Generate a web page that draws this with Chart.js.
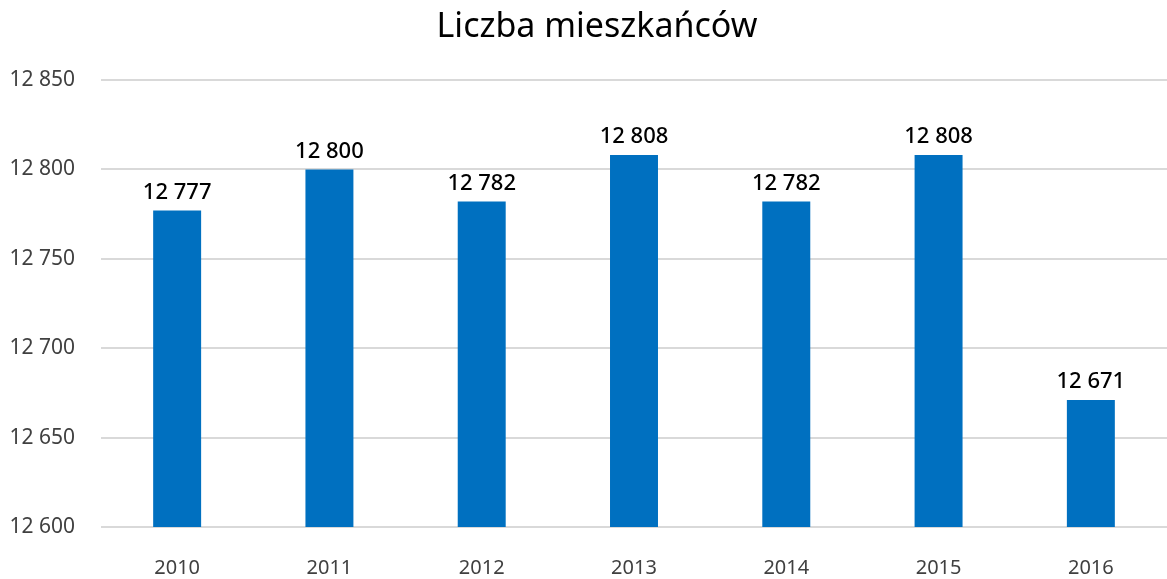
<!DOCTYPE html>
<html>
<head>
<meta charset="utf-8">
<script src="https://cdn.jsdelivr.net/npm/chart.js@4/dist/chart.umd.min.js"></script>
<style>
  html, body { margin: 0; padding: 0; background: #fff; }
  #wrap { width: 1167px; height: 579px; }
</style>
</head>
<body>
<div id="wrap"><canvas id="popChart" width="1167" height="579"></canvas></div>
<script>
// chart data
const chartTitle = 'Liczba mieszkańców';
const years = ['2010', '2011', '2012', '2013', '2014', '2015', '2016'];
const residents = [12777, 12800, 12782, 12808, 12782, 12808, 12671];
const yMin = 12600;
const yMax = 12850;
const yStep = 50;

const FONT = '"Noto Sans", "Open Sans", sans-serif';

// "12 850" style formatting
function fmt(v) {
    return String(Math.round(v)).replace(/\B(?=(\d{3})+(?!\d))/g, ' ');
}

// value labels above bars + title (title sits a bit right of canvas centre)
const extraText = {
    id: 'extraText',
    afterDatasetsDraw(chart) {
        const ctx = chart.ctx;
        const meta = chart.getDatasetMeta(0);
        ctx.save();
        ctx.font = '500 22px ' + FONT;
        ctx.fillStyle = '#000';
        ctx.textAlign = 'center';
        ctx.textBaseline = 'bottom';
        meta.data.forEach((bar, i) => {
            ctx.fillText(fmt(residents[i]), bar.x, bar.y - 7);
        });

        ctx.font = '34px ' + FONT;
        ctx.textBaseline = 'middle';
        ctx.fillText(chartTitle, 597, 27);
        ctx.restore();
    }
};

const ctx = document.getElementById('popChart').getContext('2d');
new Chart(ctx, {
    type: 'bar',
    data: {
        labels: years,
        datasets: [{
            label: chartTitle,
            data: residents,
            backgroundColor: '#0070C0',
            barPercentage: 0.315,
            categoryPercentage: 1.0
        }]
    },
    options: {
        responsive: false,
        animation: false,
        layout: { padding: { left: 0, right: 0, top: 80, bottom: 0 } },
        plugins: {
            legend: { display: false },
            tooltip: { enabled: false },
            title: { display: false }
        },
        scales: {
            x: {
                grid: { display: false },
                border: { display: false },
                ticks: {
                    color: '#404040',
                    font: { family: FONT, size: 20 },
                    padding: 21
                },
                afterFit(scale) { scale.height = 52; }
            },
            y: {
                min: yMin,
                max: yMax,
                grid: { color: '#d9d9d9', lineWidth: 2, drawTicks: false },
                border: { display: false },
                ticks: {
                    stepSize: yStep,
                    color: '#404040',
                    font: { family: FONT, size: 21 },
                    padding: 26,
                    callback: v => fmt(v)
                },
                afterFit(scale) { scale.width = 101; }
            }
        }
    },
    plugins: [extraText]
});
</script>
</body>
</html>
